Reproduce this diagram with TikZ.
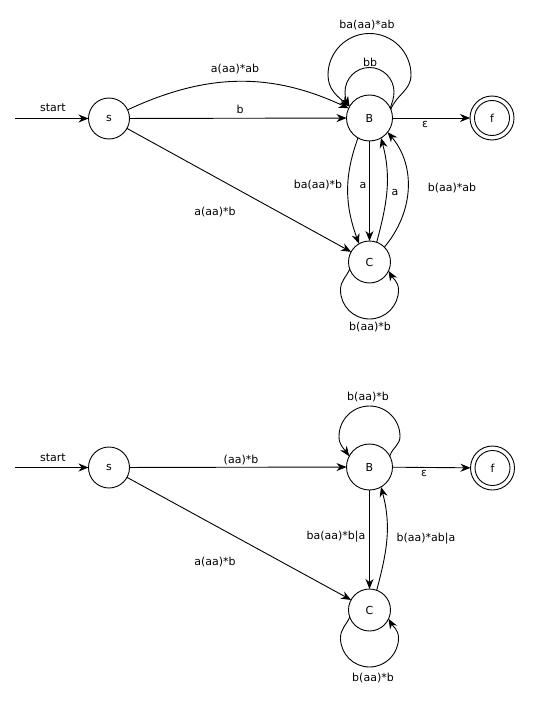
\documentclass[tikz,border=0pt]{standalone}
\usepackage{fontspec}
\setmainfont{DejaVu Sans}
\usetikzlibrary{arrows.meta}
\begin{document}
\begin{tikzpicture}[x=1bp,y=1bp, line width=0.9bp,
  txt/.style={font=\fontsize{11bp}{13bp}\selectfont},
  state/.style={circle, draw, inner sep=0pt, outer sep=0pt, txt},
  lbl/.style={txt, inner sep=0pt},
  arr/.style={-{Stealth[length=10bp,width=8bp]}}]
\useasboundingbox (0,0) rectangle (551,-702);

% ---------------- top automaton ----------------
\coordinate (in1) at (15,-118.5);
\node[state, minimum size=41bp] (s1) at (109,-118.5) {s};
\node[state, minimum size=46bp] (B1) at (369.5,-118) {B};
\node[state, minimum size=44bp] (f1) at (492,-118) {f};
\draw (f1.center) circle[radius=17.5];
\node[state, minimum size=42bp] (C1) at (369.5,-262) {C};

\draw[arr] (in1) -- (s1);
\node[lbl] (t1start) at (53,-108) {start};

\draw[arr] (s1) -- (B1);
\node[lbl] (t1b) at (240,-109) {b};

\draw[arr] (s1.25) to[out=25, in=155] (B1.155);
\node[lbl] (t1aab) at (235,-69) {a(aa)*ab};

\draw[arr] (s1) -- (C1);
\node[lbl] (t1ab) at (215,-212) {a(aa)*b};

\draw[arr] (B1) -- (f1);
\node[lbl] (t1eps) at (425,-124.5) {ε};

\draw[arr] (B1.25) to[out=75, in=-90] (394,-92)
  arc[start angle=0, end angle=180, radius=24.5]
  to[out=-90, in=120] (B1.150);
\node[lbl] (t1bb) at (370,-62) {bb};

\draw[arr] (B1.22) to[out=70, in=-90] (411,-75)
  arc[start angle=0, end angle=180, radius=41.5]
  to[out=-90, in=140] (B1.150);
\node[lbl] (t1baab) at (367,-25) {ba(aa)*ab};

\draw[arr] (B1.240) to[out=-110, in=110] (C1.120);
\node[lbl] (t1bab) at (318,-185) {ba(aa)*b};

\draw[arr] (B1) -- (C1);
\node[lbl] (t1a) at (363,-185) {a};

\draw[arr] (C1.70) to[out=75, in=-75] (B1.300);
\node[lbl] (t1a2) at (395,-192) {a};

\draw[arr] (C1.45) to[out=50, in=-50] (B1.322);
\node[lbl] (t1baab2) at (452,-188) {b(aa)*ab};

\draw[arr] (C1.200) to[out=245, in=90] (340.5,-290)
  arc[start angle=180, end angle=360, radius=29]
  to[out=90, in=-60] (C1.-25);
\node[lbl] (t1cloop) at (370,-327) {b(aa)*b};

% ---------------- bottom automaton ----------------
\coordinate (in2) at (15,-467.5);
\node[state, minimum size=41bp] (s2) at (109,-467.5) {s};
\node[state, minimum size=46bp] (B2) at (369.5,-467) {B};
\node[state, minimum size=44bp] (f2) at (492.5,-468) {f};
\draw (f2.center) circle[radius=17.5];
\node[state, minimum size=42bp] (C2) at (369.5,-610) {C};

\draw[arr] (in2) -- (s2);
\node[lbl] (t2start) at (53,-458) {start};

\draw[arr] (s2) -- (B2);
\node[lbl] (t2aab) at (241,-460) {(aa)*b};

\draw[arr] (s2) -- (C2);
\node[lbl] (t2ab) at (215,-562) {a(aa)*b};

\draw[arr] (B2) -- (f2);
\node[lbl] (t2eps) at (424,-473.5) {ε};

\draw[arr] (B2.28) to[out=75, in=-90] (400,-436.5)
  arc[start angle=0, end angle=180, radius=30.5]
  to[out=-90, in=125] (B2.152);
\node[lbl] (t2bloop) at (368,-397) {b(aa)*b};

\draw[arr] (B2) -- (C2);
\node[lbl] (t2bc) at (336,-537) {ba(aa)*b|a};

\draw[arr] (C2.70) to[out=75, in=-75] (B2.300);
\node[lbl] (t2cb) at (426,-539) {b(aa)*ab|a};

\draw[arr] (C2.200) to[out=245, in=90] (340.5,-638)
  arc[start angle=180, end angle=360, radius=29]
  to[out=90, in=-60] (C2.-25);
\node[lbl] (t2cloop) at (373,-678) {b(aa)*b};
\end{tikzpicture}
\end{document}
